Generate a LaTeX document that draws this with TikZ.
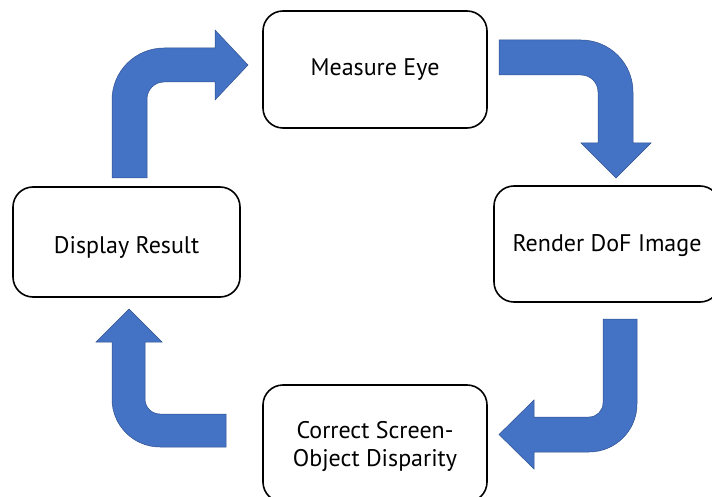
\documentclass[tikz,border=0pt]{standalone}
\usepackage{fontspec}
\setmainfont{PT Sans}
\usepackage{tikz}
\definecolor{pfeil}{HTML}{4472C4}
\definecolor{pfeilr}{HTML}{2F528F}
\newcommand{\tiefer}[2]{\raisebox{-#1}[\height][\depth]{#2}}
\tikzset{
  kasten/.style={draw=black,line width=1.6pt,rounded corners=20pt,fill=white,
    align=center,font=\fontsize{24}{29}\selectfont,inner sep=0pt},
  blockpfeil/.style={fill=pfeil,draw=pfeilr,line width=0.5pt,line join=miter},
}
\begin{document}
\begin{tikzpicture}[x=1pt,y=-1pt]
  \clip (0,0) rectangle (712,497);
  % Kaesten
  \node[kasten,minimum width=224pt,minimum height=117pt] (messen) at (375,69.5) {Measure Eye};
  \node[kasten,minimum width=226pt,minimum height=116pt] (rendern) at (607,244) {\tiefer{2pt}{Render DoF Image}};
  \node[kasten,minimum width=224pt,minimum height=117pt] (korrektur) at (375,443.5) {\tiefer{3pt}{\begin{tabular}{@{}c@{}}Correct Screen-\\[-1pt]Object Disparity\end{tabular}}};
  \node[kasten,minimum width=227pt,minimum height=110pt] (anzeige) at (126.5,242) {\tiefer{5pt}{Display Result}};
  % Pfeile
  \draw[blockpfeil] (112,178) -- (112,100) arc[start angle=180,end angle=270,radius=52]
    -- (215,48) -- (215,30) -- (248,65) -- (215,100) -- (215,82) -- (164,82)
    arc[start angle=270,end angle=180,radius=17] -- (147,178) -- cycle;
  \draw[blockpfeil] (499,40) -- (581,40) arc[start angle=270,end angle=360,radius=52]
    -- (633,143) -- (651,143) -- (616,178) -- (581,143) -- (598,143) -- (598,92)
    arc[start angle=0,end angle=-90,radius=17] -- (499,75) -- cycle;
  \draw[blockpfeil] (603,319) -- (637,319) -- (637,404) arc[start angle=0,end angle=90,radius=48]
    -- (534,452) -- (534,469) -- (499,434.5) -- (534,400) -- (534,417) -- (589,417)
    arc[start angle=90,end angle=0,radius=14] -- cycle;
  \draw[blockpfeil] (226,414) -- (160,414) arc[start angle=90,end angle=180,radius=15]
    -- (145,342) -- (162,342) -- (129,309) -- (96,342) -- (112,342) -- (112,399)
    arc[start angle=180,end angle=90,radius=48] -- (226,447) -- cycle;
\end{tikzpicture}
\end{document}
